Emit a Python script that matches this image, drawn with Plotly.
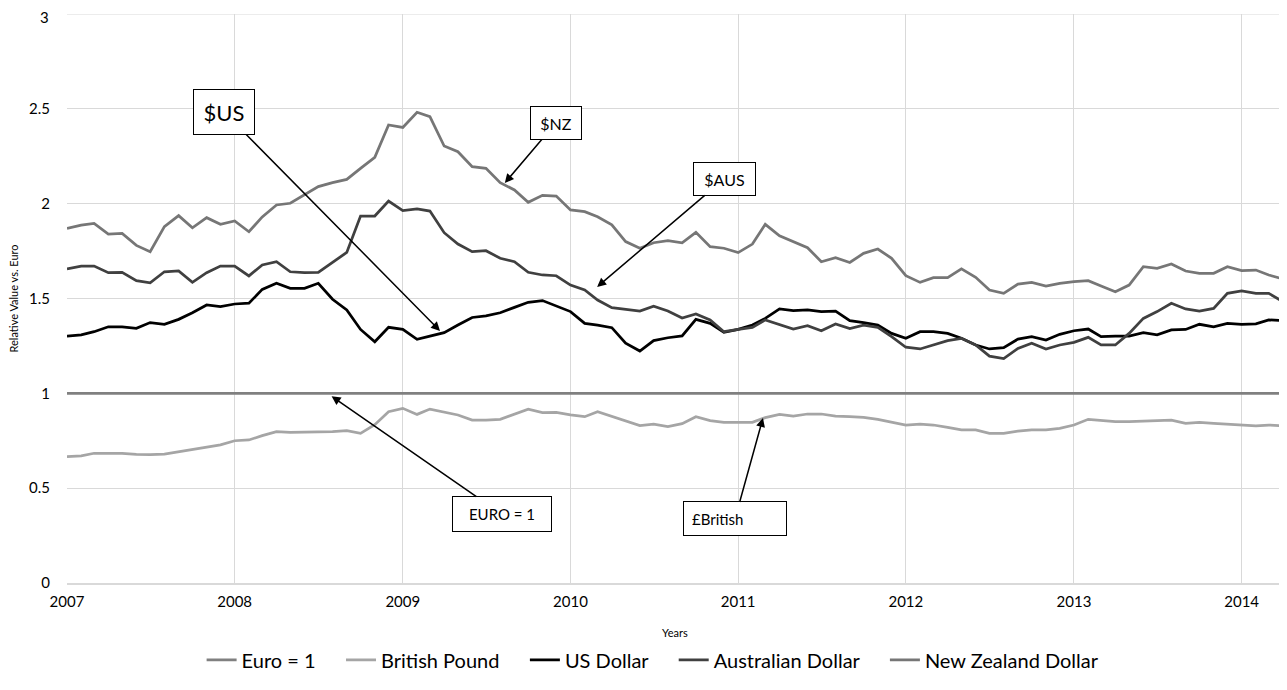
import pandas as pd
import plotly.graph_objects as go

# Monthly observations, Jan 2007 .. Apr 2014 (88 months)
months = pd.date_range("2007-01-01", periods=88, freq="MS")

euro = [1.0, 1.0, 1.0, 1.0, 1.0, 1.0, 1.0, 1.0, 1.0, 1.0, 1.0, 1.0,
        1.0, 1.0, 1.0, 1.0, 1.0, 1.0, 1.0, 1.0, 1.0, 1.0, 1.0, 1.0,
        1.0, 1.0, 1.0, 1.0, 1.0, 1.0, 1.0, 1.0, 1.0, 1.0, 1.0, 1.0,
        1.0, 1.0, 1.0, 1.0, 1.0, 1.0, 1.0, 1.0, 1.0, 1.0, 1.0, 1.0,
        1.0, 1.0, 1.0, 1.0, 1.0, 1.0, 1.0, 1.0, 1.0, 1.0, 1.0, 1.0,
        1.0, 1.0, 1.0, 1.0, 1.0, 1.0, 1.0, 1.0, 1.0, 1.0, 1.0, 1.0,
        1.0, 1.0, 1.0, 1.0, 1.0, 1.0, 1.0, 1.0, 1.0, 1.0, 1.0, 1.0,
        1.0, 1.0, 1.0, 1.0]

gbp = [0.666, 0.670, 0.684, 0.684, 0.684, 0.678, 0.677, 0.680, 0.692, 0.701, 0.714, 0.728,
       0.750, 0.754, 0.777, 0.798, 0.794, 0.794, 0.794, 0.798, 0.803, 0.789, 0.835, 0.903,
       0.921, 0.889, 0.917, 0.900, 0.886, 0.859, 0.859, 0.863, 0.891, 0.916, 0.898, 0.900,
       0.886, 0.877, 0.903, 0.877, 0.856, 0.830, 0.837, 0.824, 0.840, 0.877, 0.856, 0.847,
       0.847, 0.847, 0.872, 0.889, 0.880, 0.891, 0.891, 0.880, 0.877, 0.873, 0.863, 0.847,
       0.833, 0.838, 0.833, 0.821, 0.807, 0.807, 0.789, 0.789, 0.801, 0.807, 0.807, 0.815,
       0.833, 0.863, 0.859, 0.851, 0.851, 0.854, 0.859, 0.859, 0.842, 0.847, 0.842, 0.838,
       0.830, 0.828, 0.833, 0.828]

usd = [1.302, 1.308, 1.325, 1.351, 1.351, 1.343, 1.373, 1.364, 1.390, 1.425, 1.466, 1.457,
       1.471, 1.475, 1.548, 1.580, 1.554, 1.554, 1.580, 1.496, 1.440, 1.337, 1.272, 1.348,
       1.337, 1.285, 1.302, 1.320, 1.360, 1.400, 1.408, 1.425, 1.453, 1.480, 1.489, 1.460,
       1.431, 1.369, 1.360, 1.346, 1.264, 1.223, 1.278, 1.293, 1.303, 1.390, 1.369, 1.322,
       1.337, 1.360, 1.395, 1.445, 1.436, 1.440, 1.431, 1.434, 1.383, 1.373, 1.360, 1.316,
       1.290, 1.325, 1.325, 1.316, 1.290, 1.255, 1.234, 1.241, 1.286, 1.299, 1.281, 1.311,
       1.330, 1.339, 1.299, 1.302, 1.302, 1.320, 1.308, 1.334, 1.337, 1.364, 1.351, 1.369,
       1.364, 1.366, 1.387, 1.383]

aud = [1.656, 1.671, 1.671, 1.636, 1.638, 1.594, 1.583, 1.641, 1.645, 1.585, 1.636, 1.671,
       1.671, 1.619, 1.677, 1.694, 1.641, 1.636, 1.638, 1.690, 1.743, 1.935, 1.935, 2.014,
       1.963, 1.972, 1.961, 1.847, 1.787, 1.747, 1.752, 1.712, 1.694, 1.638, 1.624, 1.620,
       1.571, 1.545, 1.492, 1.452, 1.445, 1.434, 1.460, 1.434, 1.397, 1.418, 1.387, 1.325,
       1.337, 1.348, 1.387, 1.364, 1.339, 1.357, 1.330, 1.366, 1.341, 1.360, 1.348, 1.299,
       1.243, 1.234, 1.255, 1.278, 1.290, 1.255, 1.196, 1.183, 1.237, 1.264, 1.234, 1.255,
       1.269, 1.295, 1.255, 1.255, 1.316, 1.395, 1.431, 1.475, 1.445, 1.434, 1.448, 1.527,
       1.540, 1.527, 1.527, 1.483]

nzd = [1.870, 1.887, 1.896, 1.840, 1.843, 1.780, 1.747, 1.879, 1.937, 1.873, 1.926, 1.891,
       1.909, 1.852, 1.930, 1.993, 2.002, 2.046, 2.090, 2.111, 2.128, 2.186, 2.244, 2.415,
       2.402, 2.482, 2.459, 2.304, 2.274, 2.195, 2.186, 2.111, 2.072, 2.007, 2.044, 2.040,
       1.967, 1.958, 1.931, 1.888, 1.800, 1.765, 1.794, 1.805, 1.794, 1.849, 1.773, 1.765,
       1.742, 1.787, 1.891, 1.831, 1.800, 1.768, 1.694, 1.715, 1.690, 1.738, 1.761, 1.712,
       1.620, 1.585, 1.610, 1.610, 1.656, 1.612, 1.545, 1.527, 1.576, 1.585, 1.566, 1.580,
       1.589, 1.594, 1.566, 1.536, 1.571, 1.668, 1.659, 1.682, 1.645, 1.633, 1.633, 1.668,
       1.647, 1.650, 1.624, 1.603]

series_names = ["Euro = 1", "British Pound", "US Dollar", "Australian Dollar", "New Zealand Dollar"]
series_values = [euro, gbp, usd, aud, nzd]
series_colors = ["#808080", "#a5a5a5", "#000000", "#404040", "#767676"]

tick_years = ["2007", "2008", "2009", "2010", "2011", "2012", "2013", "2014"]
y_ticks = [0, 0.5, 1, 1.5, 2, 2.5, 3]
y_ticktext = ["0", "0.5", "1", "1.5", "2", "2.5", "3"]

# callouts: text, tip date, tip value, box offset (px), box size, font size, align, pad
callouts = [
    ("$US", "2009-03-23", 1.329, -216, -219, 52, 36, 22, "center", 4),
    ("$NZ", "2009-08-11", 2.109, 51, -60, 42, 24, 16, "center", 4),
    ("$AUS", "2010-02-28", 1.561, 127, -108, 53, 24, 16, "center", 4),
    ("EURO = 1", "2008-07-30", 0.985, 170, 118, 90, 26, 15, "center", 4),
    ("£British", "2011-02-24", 0.870, -28, 101, 86, 17, 15, "left", 8),
]

FONT = "Lato, 'Open Sans', sans-serif"
GAP = "&nbsp;" * 4

fig = go.Figure()
for i, (name, vals, col) in enumerate(zip(series_names, series_values, series_colors)):
    label = name + (GAP if i < len(series_names) - 1 else "")
    fig.add_trace(go.Scatter(x=months, y=vals, mode="lines", name=label,
                             line=dict(color=col, width=2.75)))

for txt, xd, yv, ax, ay, w, h, fs, al, pad in callouts:
    fig.add_annotation(x=xd, y=yv, xref="x", yref="y", text=txt,
                       showarrow=True, ax=ax, ay=ay, axref="pixel", ayref="pixel",
                       arrowhead=2, arrowsize=1.2, arrowwidth=1.5, arrowcolor="#000000",
                       font=dict(family=FONT, size=fs, color="#000000"),
                       bgcolor="#ffffff", bordercolor="#000000", borderwidth=1,
                       borderpad=pad, width=w, height=h, align=al)

# axis titles
fig.add_annotation(text="Relative Value vs. Euro", xref="paper", yref="paper",
                   x=-0.0436, y=0.5, xanchor="center", yanchor="middle",
                   textangle=-90, showarrow=False,
                   font=dict(family=FONT, size=11, color="#000000"))
fig.add_annotation(text="Years", xref="paper", yref="paper",
                   x=0.5, y=-0.0864, xanchor="center", yanchor="middle", showarrow=False,
                   font=dict(family=FONT, size=11, color="#000000"))

# top tick (value 3): gridline + label nudged so the label stays inside the page
fig.add_hline(y=y_ticks[-1], line=dict(color="#d9d9d9", width=1), layer="below")
fig.add_annotation(text=y_ticktext[-1], xref="paper", yref="y", x=0, y=y_ticks[-1],
                   xanchor="right", yanchor="middle", xshift=-16, yshift=-3,
                   showarrow=False, font=dict(family=FONT, size=15, color="#000000"))

fig.update_layout(
    width=1279, height=674,
    margin=dict(l=59, r=4, t=6, b=99, autoexpand=False),
    paper_bgcolor="#ffffff", plot_bgcolor="#ffffff",
    font=dict(family=FONT, size=15, color="#000000"),
    showlegend=True,
    legend=dict(orientation="h", x=0.482, xanchor="center", y=-0.135, yanchor="middle",
                font=dict(family=FONT, size=20, color="#000000"),
                itemwidth=30, tracegroupgap=0),
    xaxis=dict(
        range=["2007-01-01", "2014-04-01"],
        tickvals=[y + "-01-01" for y in tick_years], ticktext=tick_years,
        showgrid=True, gridcolor="#d9d9d9", gridwidth=1,
        showline=True, linecolor="#d9d9d9", linewidth=2,
        zeroline=False, ticks="", ticklabelstandoff=4, automargin=False,
        ticklabeloverflow="allow",
        tickfont=dict(family=FONT, size=15, color="#000000"),
    ),
    yaxis=dict(
        range=[0, 3], tickvals=y_ticks[:-1], ticktext=y_ticktext[:-1],
        showgrid=True, gridcolor="#d9d9d9", gridwidth=1,
        zeroline=False, showline=False, ticks="", ticklabelstandoff=16, automargin=False,
        ticklabeloverflow="allow",
        tickfont=dict(family=FONT, size=15, color="#000000"),
    ),
)

fig.write_html("out.html")
